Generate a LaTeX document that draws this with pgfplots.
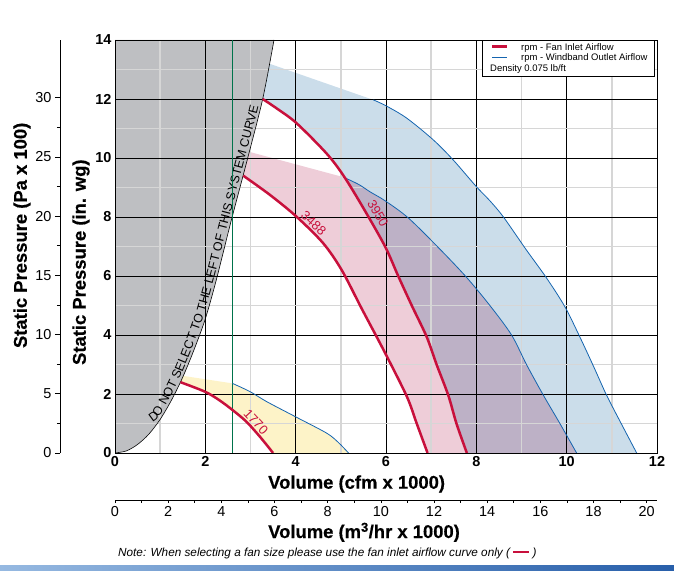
\documentclass[border=0pt]{standalone}
\usepackage{fontspec}
\setmainfont{Liberation Sans}
\newfontfamily\labelfont[BoldFeatures={FakeBold=0.45}]{Liberation Sans}
\usepackage{pgfplots}
\pgfplotsset{compat=1.18}
\usetikzlibrary{decorations.text}
\definecolor{fanred}{RGB}{200,16,60}
\definecolor{wbblue}{RGB}{20,100,175}
\definecolor{bluefill}{RGB}{203,221,234}
\definecolor{pinkfill}{RGB}{238,205,216}
\definecolor{yellowfill}{RGB}{253,243,200}
\definecolor{sysgray}{RGB}{190,191,194}
\definecolor{minorgrid}{RGB}{214,214,214}
\definecolor{sysgreen}{RGB}{0,115,75}
\definecolor{gradL}{RGB}{150,185,225}
\definecolor{gradR}{RGB}{40,95,170}
\pgfplotsset{layers/mylayers/.define layer set={axis background,axis grid,pre main,main,axis ticks,axis lines,axis tick labels,axis descriptions,axis foreground}{}}
\begin{document}
\begin{tikzpicture}
\path (-115bp,-118bp) rectangle (559bp,453bp);
\shade[left color=gradL, right color=gradR] (-115bp,-118bp) rectangle (559bp,-112bp);

\begin{axis}[
  set layers=mylayers,
  at={(0,0)}, anchor=south west,
  scale only axis, width=542bp, height=413bp,
  xmin=0, xmax=12, ymin=0, ymax=14,
  xtick={0,2,4,6,8,10,12}, ytick={0,2,4,6,8,10,12,14},
  minor x tick num=1, minor y tick num=1,
  grid=both,
  major grid style={black, line width=0.8bp},
  minor grid style={minorgrid, line width=1.4bp},
  major tick length=0pt, minor tick length=0pt,
  axis line style={black, line width=0.9bp},
  /pgf/number format/assume math mode=true,
  tick label style={font=\fontsize{14.5}{14.5}\selectfont\bfseries},
  xlabel={Volume (cfm x 1000)},
  ylabel={Static Pressure (in. wg)},
  label style={font=\fontsize{18.5}{18.5}\selectfont\labelfont\bfseries},
  xlabel style={at={(rel axis cs:0,0)}, anchor=base west, inner sep=0pt, xshift=153bp, yshift=-35.7bp},
  ylabel style={at={(rel axis cs:0,0.462)}, anchor=center, yshift=34bp},
]
% fills (3950 outlet band)
\addplot[fill=bluefill, draw=none, on layer=axis background, blend mode=multiply, forget plot] coordinates {
 (3.3,13.26) (5.72,11.97) (6.0,11.77) (6.46,11.35) (7.05,10.61) (7.49,9.93) (8.0,9.03) (8.3,8.55) (8.6,8.0)
 (9.1,6.9) (9.56,5.92) (9.96,4.96) (10.29,3.94) (10.6,2.92) (10.88,1.97) (11.2,1.02) (11.55,0)
 (7.79,0) (7.56,1.0) (7.38,1.95) (7.12,3.0) (6.9,3.94) (6.57,5.0) (6.27,6.0) (5.98,7.0) (5.5,8.3)
 (5.06,9.4) (4.68,10.16) (4.02,11.18) (3.6,11.66) (3.27,12.0) (3.1,12.05)} -- cycle;
% 3488 band
\addplot[fill=pinkfill, draw=none, on layer=axis background, blend mode=multiply, forget plot] coordinates {
 (2.8,10.28) (5.06,9.35) (5.4,9.1) (5.65,8.85) (5.98,8.55) (6.5,7.96) (7.2,6.9) (7.78,5.96) (8.3,5.0)
 (8.78,4.0) (9.11,3.0) (9.48,1.97) (9.85,1.0) (10.22,0)
 (6.92,0) (6.68,1.0) (6.46,1.92) (5.96,3.45) (5.46,4.9) (5.02,6.2) (4.61,7.11) (4.02,8.01) (3.43,8.75)
 (2.84,9.4) (2.6,9.5)} -- cycle;
% 1770 band
\addplot[fill=yellowfill, draw=none, on layer=axis background, blend mode=multiply, forget plot] coordinates {
 (1.4,2.64) (2.6,2.36) (2.99,2.08) (3.36,1.74) (4.02,1.21) (4.69,0.67) (4.95,0.35) (5.17,0)
 (3.5,0) (3.21,0.55) (2.91,1.06) (2.6,1.46) (2.3,1.8) (1.99,2.08) (1.45,2.4) (1.3,2.45)} -- cycle;

% system region
\addplot[fill=sysgray, draw=none, on layer=pre main, forget plot] coordinates {
 (0,0) (0.25,0.07) (0.5,0.29) (0.75,0.64) (1.0,1.14) (1.25,1.79) (1.5,2.57) (1.75,3.5) (2.0,4.55)
 (2.24,5.85) (2.56,7.8) (2.93,9.95) (3.27,12.0) (3.52,14) (0,14)} -- cycle;
\addplot[black, line width=0.6bp, smooth, forget plot] coordinates {
 (0,0) (0.25,0.07) (0.5,0.29) (0.75,0.64) (1.0,1.14) (1.25,1.79) (1.5,2.57) (1.75,3.5) (2.0,4.55)
 (2.24,5.85) (2.56,7.8) (2.93,9.95) (3.27,12.0) (3.52,14)};
\addplot[draw=none, smooth, forget plot, postaction={decorate},
  decoration={text along path, raise=2.5bp, text align={left indent=1bp},
  text={|\fontsize{12.5}{12.5}\selectfont|DO NOT SELECT TO THE LEFT OF THIS SYSTEM CURVE}}] coordinates {
 (0.84,0.98) (1.0,1.14) (1.25,1.79) (1.5,2.57) (1.75,3.5) (2.0,4.55)
 (2.24,5.85) (2.56,7.8) (2.93,9.95) (3.27,12.0) (3.52,14)};

% green line
\addplot[sysgreen, line width=1.8bp, forget plot] coordinates {(2.6,0) (2.6,14)};

% outlet (windband) curves
\addplot[wbblue, line width=0.8bp, smooth, forget plot] coordinates {
 (5.72,11.97) (6.0,11.77) (6.46,11.35) (7.05,10.61) (7.49,9.93) (8.0,9.03) (8.3,8.55) (8.6,8.0)
 (9.1,6.9) (9.56,5.92) (9.96,4.96) (10.29,3.94) (10.6,2.92) (10.88,1.97) (11.2,1.02) (11.55,0)};
\addplot[wbblue, line width=0.8bp, smooth, forget plot] coordinates {
 (5.06,9.35) (5.4,9.1) (5.65,8.85) (5.98,8.55) (6.5,7.96) (7.2,6.9) (7.78,5.96) (8.3,5.0)
 (8.78,4.0) (9.11,3.0) (9.48,1.97) (9.85,1.0) (10.22,0)};
\addplot[wbblue, line width=0.8bp, smooth, forget plot] coordinates {
 (2.6,2.36) (2.99,2.08) (3.36,1.74) (4.02,1.21) (4.69,0.67) (4.95,0.35) (5.17,0)};

% fan inlet curves
\addplot[fanred, line width=2.5bp, smooth, forget plot] coordinates {
 (3.27,12.0) (3.6,11.66) (4.02,11.18) (4.68,10.16) (5.06,9.4) (5.5,8.3) (5.98,7.0) (6.27,6.0)
 (6.57,5.0) (6.9,3.94) (7.12,3.0) (7.38,1.95) (7.56,1.0) (7.79,0)};
\addplot[fanred, line width=2.5bp, smooth, forget plot] coordinates {
 (2.84,9.4) (3.43,8.75) (4.02,8.01) (4.61,7.11) (5.02,6.2) (5.46,4.9) (5.96,3.45) (6.46,1.92) (6.68,1.0) (6.92,0)};
\addplot[fanred, line width=2.5bp, smooth, forget plot] coordinates {
 (1.45,2.4) (1.99,2.08) (2.3,1.8) (2.6,1.46) (2.91,1.06) (3.21,0.55) (3.5,0)};

\node[rotate=-47, text=fanred, font=\fontsize{13}{13}\selectfont] at (axis cs:3.12,1.06) {1770};
\node[rotate=-43, text=fanred, font=\fontsize{13}{13}\selectfont] at (axis cs:4.4,7.8) {3488};
\node[rotate=-60, text=fanred, font=\fontsize{13}{13}\selectfont] at (axis cs:5.82,8.12) {3950};

% legend
\node[draw=black, line width=0.8bp, fill=white, anchor=north east, inner xsep=0pt, inner ysep=2.5bp,
  font=\fontsize{9.5}{10.5}\selectfont] at (rel axis cs:0.996,1) {%
  \begin{tabular}{@{\hspace{10bp}}l@{\hspace{14bp}}l@{\hspace{7bp}}}
  \textcolor{fanred}{\rule[0.25em]{15bp}{2.5bp}} & rpm - Fan Inlet Airflow\\
  \textcolor{wbblue}{\rule[0.3em]{15bp}{0.8bp}} & rpm - Windband Outlet Airflow\\
  \multicolumn{2}{@{\hspace{8bp}}l}{Density 0.075 lb/ft}
  \end{tabular}};
\end{axis}

% Pa axis
\begin{axis}[
  at={(-55bp,0)}, anchor=south west, scale only axis, width=1bp, height=413bp,
  xmin=0, xmax=1, ymin=0, ymax=34.86,
  axis x line=none, axis y line*=left,
  ytick={0,5,10,15,20,25,30}, minor y tick num=1,
  tick align=outside, major tick length=5bp, minor tick length=3bp,
  tick style={black, line width=0.6bp}, axis line style={black, line width=0.8bp},
  /pgf/number format/assume math mode=true,
  tick label style={font=\fontsize{14.5}{14.5}\selectfont},
  ylabel={Static Pressure (Pa x 100)},
  ylabel style={font=\fontsize{18.5}{18.5}\selectfont\labelfont\bfseries, at={(rel axis cs:0,0.527)}, anchor=center, yshift=38bp},
]
\addplot[draw=none] coordinates {(0,0) (1,34.86)};
\end{axis}

% m3/hr axis
\begin{axis}[
  at={(0,-47bp)}, anchor=south west, scale only axis, width=542bp, height=1bp,
  xmin=0, xmax=20.388, ymin=0, ymax=1,
  axis y line=none, axis x line*=bottom,
  xtick={0,2,4,6,8,10,12,14,16,18,20}, minor x tick num=1,
  tick align=outside, major tick length=3bp, minor tick length=2.5bp,
  tick style={black, line width=0.6bp}, axis line style={black, line width=0.8bp},
  /pgf/number format/assume math mode=true,
  tick label style={font=\fontsize{14.5}{14.5}\selectfont},
  xlabel={Volume (m\textsuperscript{3}/hr x 1000)},
  xlabel style={font=\fontsize{18.5}{18.5}\selectfont\labelfont\bfseries, at={(rel axis cs:0,0)}, anchor=base west, inner sep=0pt, xshift=153bp, yshift=-38bp},
]
\addplot[draw=none] coordinates {(0,0) (20.388,1)};
\end{axis}

\node[anchor=west, font=\fontsize{11.8}{11.8}\selectfont\itshape, inner sep=0pt] at (3bp,-100bp)
  {Note: When selecting a fan size please use the fan inlet airflow curve only ( \textcolor{fanred}{\rule[0.25em]{16bp}{2.5bp}} )};
\end{tikzpicture}
\end{document}
